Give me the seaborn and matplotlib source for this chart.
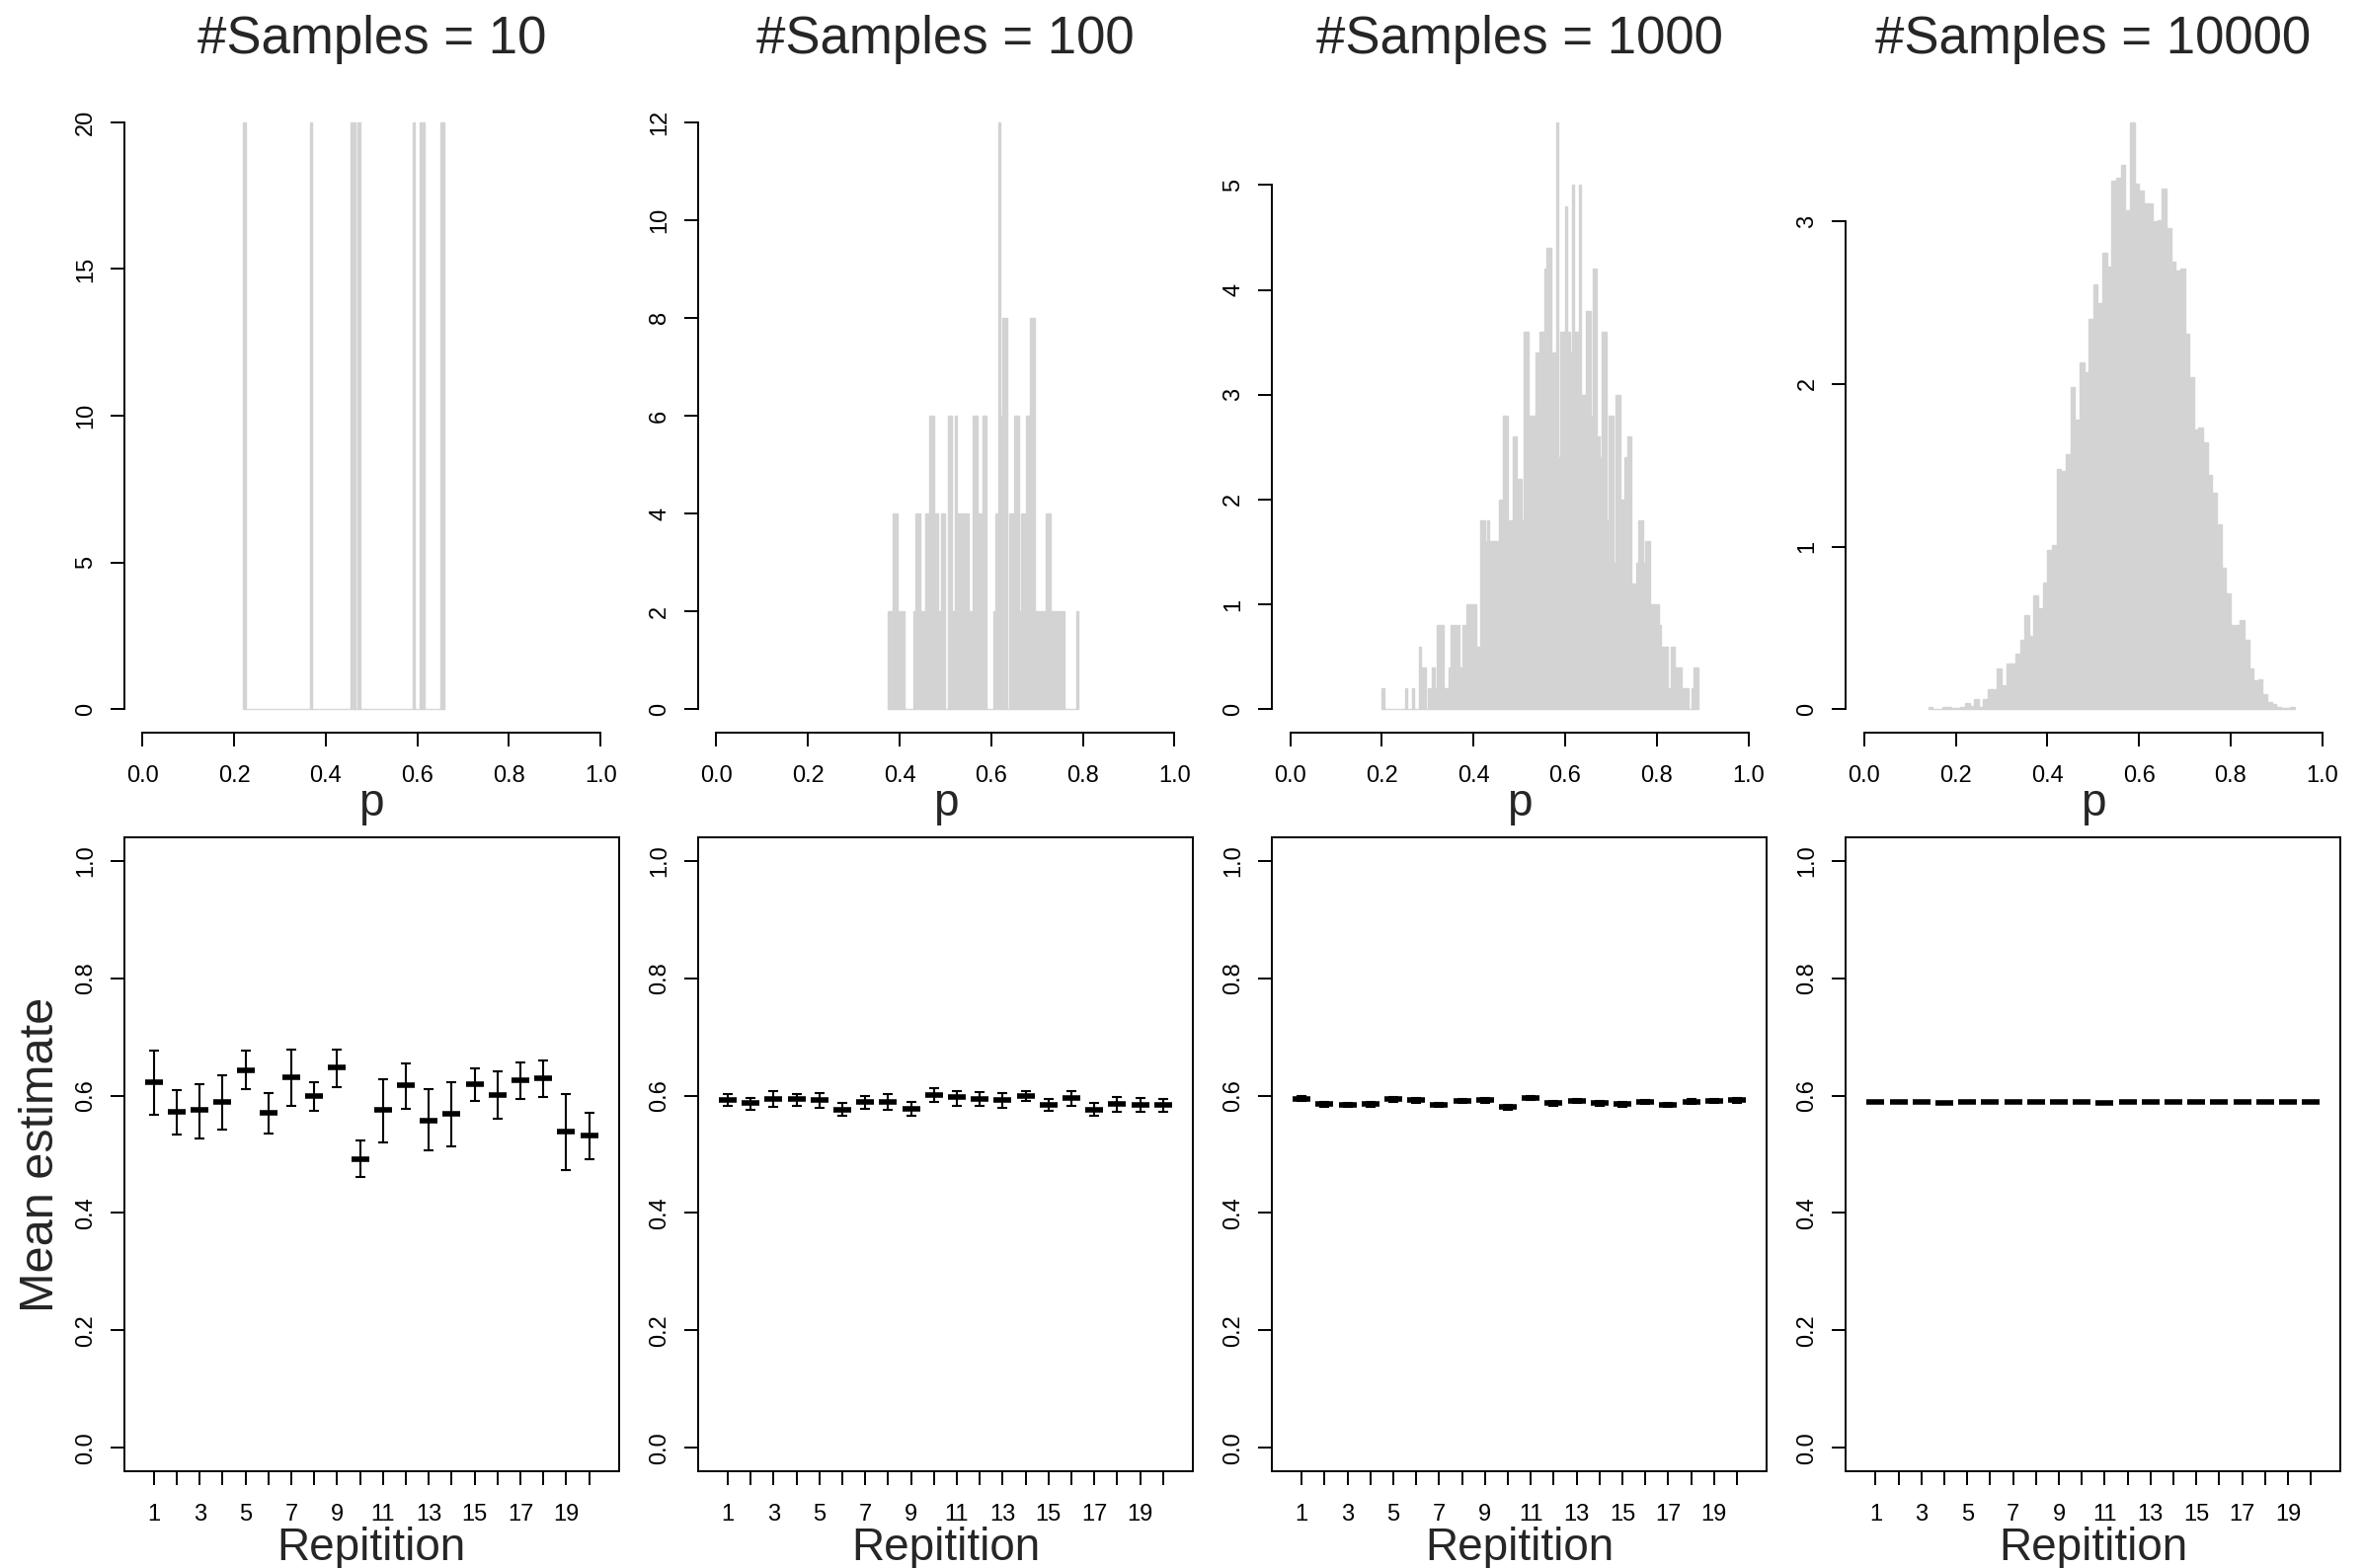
import numpy as np
import pandas as pd
import matplotlib
matplotlib.use("Agg")
import matplotlib.pyplot as plt
import seaborn as sns

sns.set_theme(style="white")
plt.rcParams["font.family"] = ["Liberation Sans", "DejaVu Sans"]

# ---------------- data ----------------
titles = ["#Samples = 10", "#Samples = 100", "#Samples = 1000", "#Samples = 10000"]

# panel 1: the ten sampled p values (density histogram, bin width 0.005)
p_samples_10 = [0.2225, 0.3675, 0.4575, 0.4625, 0.4725,
                0.5925, 0.6075, 0.6125, 0.6525, 0.6575]
bins_10 = (0.22, 0.66, 0.005)  # start, stop, width

# panel 2: densities per bin (start 0.375, width 0.005)
bins_100 = (0.375, 0.005)
dens_100 = [2, 2, 4, 4, 2, 2, 2, 0, 0, 0, 0, 2, 4, 4, 2, 2, 4, 4, 6, 6,
            4, 4, 2, 4, 4, 0, 6, 6, 2, 6, 4, 4, 4, 4, 4, 2, 2, 6, 6, 4,
            4, 6, 6, 0, 0, 0, 2, 4, 12, 6, 8, 8, 0, 4, 4, 6, 6, 2, 4, 4,
            6, 6, 8, 8, 2, 2, 2, 2, 2, 4, 4, 2, 2, 2, 2, 2, 2, 0, 0, 0,
            0, 0, 2]

# panel 3: densities per bin (start 0.20, width 0.005)
bins_1000 = (0.20, 0.005)
dens_1000 = [0.2, 0, 0, 0, 0, 0, 0, 0, 0, 0, 0.2, 0, 0, 0.2, 0, 0, 0.6, 0.4, 0.4, 0,
             0.2, 0.2, 0.4, 0.2, 0.8, 0.8, 0.8, 0.2, 0.2, 0.4, 0.8, 0.8, 0.8, 0.8, 0.4, 0.8, 0.8, 1.0, 1.0, 1.0,
             1.0, 0.6, 0.6, 1.8, 1.8, 1.6, 1.8, 1.6, 1.6, 1.6, 1.6, 2.0, 2.0, 2.8, 2.8, 1.8, 1.8, 2.6, 2.6, 2.2,
             2.2, 1.8, 3.6, 3.6, 2.8, 2.8, 2.8, 3.4, 3.4, 3.6, 3.6, 4.2, 4.4, 4.4, 3.4, 3.4, 5.6, 2.4, 3.6, 3.6,
             4.8, 3.6, 3.4, 5.0, 3.6, 3.6, 5.0, 3.0, 3.0, 3.8, 3.8, 2.8, 4.2, 4.2, 2.6, 2.4, 3.6, 3.6, 1.8, 2.8,
             2.8, 1.4, 3.0, 3.0, 2.0, 2.0, 2.4, 2.6, 2.6, 1.2, 1.2, 1.4, 1.8, 1.8, 1.4, 1.6, 1.6, 1.0, 1.0, 1.0,
             1.0, 0.8, 0.6, 0.6, 0.6, 0.2, 0.6, 0.6, 0.4, 0.4, 0.4, 0.2, 0.2, 0.2, 0, 0.2, 0.4, 0.4]

# panel 4: densities per bin (start 0.14, width 0.01)
bins_10000 = (0.14, 0.01)
dens_10000 = [0.012, 0.003, 0.003, 0.012, 0.012, 0.005, 0.005, 0.016, 0.04, 0.02,
              0.064, 0.016, 0.064, 0.125, 0.125, 0.25, 0.146, 0.28, 0.28, 0.34,
              0.425, 0.58, 0.45, 0.70, 0.62, 0.78, 0.98, 1.01, 1.48, 1.465,
              1.57, 1.98, 1.78, 2.13, 2.07, 2.40, 2.61, 2.50, 2.81, 2.72,
              3.25, 3.27, 3.35, 3.07, 3.61, 3.23, 3.19, 3.11, 3.11, 3.00,
              3.01, 3.20, 2.96, 2.75, 2.70, 2.71, 2.31, 2.04, 1.72, 1.73,
              1.64, 1.44, 1.33, 1.14, 0.87, 0.71, 0.52, 0.515, 0.55, 0.425,
              0.25, 0.18, 0.185, 0.09, 0.045, 0.034, 0.016, 0.005, 0.005, 0.016]

hist_yticks = [[0, 5, 10, 15, 20], [0, 2, 4, 6, 8, 10, 12], [0, 1, 2, 3, 4, 5], [0, 1, 2, 3]]
p_ticks = [0.0, 0.2, 0.4, 0.6, 0.8, 1.0]
p_ticklabels = ["0.0", "0.2", "0.4", "0.6", "0.8", "1.0"]

repetitions = list(range(1, 21))

mean_10 = [0.623, 0.573, 0.575, 0.589, 0.643, 0.571, 0.631, 0.600, 0.648, 0.492,
           0.575, 0.617, 0.558, 0.569, 0.619, 0.601, 0.627, 0.630, 0.538, 0.532]
low_10 = [0.568, 0.534, 0.527, 0.542, 0.611, 0.535, 0.583, 0.574, 0.615, 0.461,
          0.521, 0.578, 0.506, 0.514, 0.591, 0.560, 0.595, 0.598, 0.473, 0.491]
high_10 = [0.676, 0.610, 0.620, 0.634, 0.676, 0.605, 0.679, 0.623, 0.679, 0.523,
           0.628, 0.655, 0.611, 0.623, 0.647, 0.642, 0.657, 0.659, 0.603, 0.571]

mean_100 = [0.593, 0.587, 0.595, 0.594, 0.593, 0.576, 0.589, 0.590, 0.578, 0.601,
            0.597, 0.595, 0.592, 0.600, 0.584, 0.596, 0.576, 0.585, 0.584, 0.584]
low_100 = [0.583, 0.576, 0.581, 0.583, 0.579, 0.565, 0.578, 0.575, 0.565, 0.589,
           0.583, 0.583, 0.579, 0.591, 0.574, 0.582, 0.565, 0.573, 0.572, 0.572]
high_100 = [0.603, 0.596, 0.607, 0.603, 0.605, 0.587, 0.599, 0.603, 0.589, 0.612,
            0.608, 0.606, 0.604, 0.608, 0.595, 0.608, 0.587, 0.597, 0.596, 0.595]

mean_1000 = [0.595, 0.585, 0.584, 0.585, 0.594, 0.592, 0.584, 0.591, 0.592, 0.580,
             0.596, 0.587, 0.591, 0.587, 0.585, 0.589, 0.584, 0.590, 0.591, 0.592]
low_1000 = [0.591, 0.581, 0.580, 0.581, 0.590, 0.588, 0.580, 0.587, 0.588, 0.576,
            0.592, 0.583, 0.587, 0.583, 0.581, 0.585, 0.580, 0.586, 0.587, 0.588]
high_1000 = [0.599, 0.589, 0.588, 0.589, 0.598, 0.596, 0.588, 0.595, 0.596, 0.584,
             0.600, 0.591, 0.595, 0.591, 0.589, 0.593, 0.588, 0.594, 0.595, 0.596]

mean_10000 = [0.589, 0.590, 0.590, 0.588, 0.590, 0.590, 0.590, 0.590, 0.590, 0.590,
              0.588, 0.589, 0.589, 0.589, 0.590, 0.589, 0.589, 0.589, 0.589, 0.590]
low_10000 = [0.588, 0.589, 0.589, 0.587, 0.589, 0.589, 0.589, 0.589, 0.589, 0.589,
             0.587, 0.588, 0.588, 0.588, 0.589, 0.588, 0.588, 0.588, 0.588, 0.589]
high_10000 = [0.590, 0.591, 0.591, 0.589, 0.591, 0.591, 0.591, 0.591, 0.591, 0.591,
              0.589, 0.590, 0.590, 0.590, 0.591, 0.590, 0.590, 0.590, 0.590, 0.591]

est_yticks = [0.0, 0.2, 0.4, 0.6, 0.8, 1.0]
est_yticklabels = ["0.0", "0.2", "0.4", "0.6", "0.8", "1.0"]

# ---------------- figure ----------------
W, H = 2394, 1588
fig = plt.figure(figsize=(W / 100, H / 100), dpi=100)
fig.patch.set_facecolor("white")

HIST_COLOR = "#D3D3D3"
TICK_FS = 17
LABEL_FS = 33
YLABEL_FS = 35
TITLE_FS = 38
LW = 1.4


def px_axes(left, top, width, height):
    return fig.add_axes([left / W, 1 - (top + height) / H, width / W, height / H])


col_left = [125.7 + 581.2 * c for c in range(4)]
col_w = 501.0

hist_specs = [("samples", p_samples_10, bins_10),
              ("dens", dens_100, bins_100),
              ("dens", dens_1000, bins_1000),
              ("dens", dens_10000, bins_10000)]

for c in range(4):
    ax = px_axes(col_left[c], 100, col_w, 642)
    kind, vals, b = hist_specs[c]
    if kind == "samples":
        start, stop, width = b
        n = int(round((stop - start) / width))
        edges = [float(e) for e in start + width * np.arange(n + 1)]
        df = pd.DataFrame({"p": vals})
        sns.histplot(data=df, x="p", bins=edges, stat="density", ax=ax, color=HIST_COLOR,
                     edgecolor=HIST_COLOR, linewidth=1.0, alpha=1)
        ymax = 1.0 / (len(vals) * width)
    else:
        start, width = b
        n = len(vals)
        edges_arr = start + width * np.arange(n + 1)
        edges = [float(e) for e in edges_arr]
        centers = edges_arr[:-1] + width / 2
        df = pd.DataFrame({"p": centers, "density": vals})
        sns.histplot(data=df, x="p", weights="density", bins=edges, stat="count", ax=ax,
                     color=HIST_COLOR, edgecolor=HIST_COLOR, linewidth=1.0, alpha=1)
        ymax = max(vals)
    ax.set_xlim(-0.04, 1.04)
    ax.set_ylim(-0.04 * ymax, 1.04 * ymax)
    ax.set_xlabel("")
    ax.set_ylabel("")
    yt = hist_yticks[c]
    ax.set_yticks(yt)
    ax.set_yticklabels([str(t) for t in yt])
    ax.set_xticks(p_ticks)
    ax.set_xticklabels(p_ticklabels)
    for s in ["top", "right"]:
        ax.spines[s].set_visible(False)
    for s in ["left", "bottom"]:
        ax.spines[s].set_color("black")
        ax.spines[s].set_linewidth(LW)
    ax.spines["left"].set_bounds(yt[0], yt[-1])
    ax.spines["bottom"].set_bounds(0, 1)
    ax.tick_params(axis="both", direction="out", length=10, width=LW, color="black",
                   labelsize=TICK_FS, labelcolor="black")
    ax.tick_params(axis="x", pad=13.5, bottom=True)
    ax.tick_params(axis="y", pad=10.0, left=True, labelrotation=90)
    for lab in ax.get_yticklabels():
        lab.set_va("center")
    ax.set_facecolor("white")
    cx = (col_left[c] + col_w / 2) / W
    fig.text(cx, 1 - 54 / H, titles[c], ha="center", va="baseline", fontsize=TITLE_FS)
    fig.text(cx, 1 - 826 / H, "p", ha="center", va="baseline", fontsize=LABEL_FS)

est_data = [(mean_10, low_10, high_10), (mean_100, low_100, high_100),
            (mean_1000, low_1000, high_1000), (mean_10000, low_10000, high_10000)]

for c in range(4):
    ax = px_axes(col_left[c], 848, col_w, 642)
    m, lo, hi = [np.asarray(v) for v in est_data[c]]
    ax.errorbar(repetitions, m, yerr=[m - lo, hi - m], fmt="none", ecolor="black",
                elinewidth=1.5, capsize=3.85, capthick=1.5, zorder=2)
    df = pd.DataFrame({"rep": repetitions, "mean": m})
    sns.scatterplot(data=df, x="rep", y="mean", marker="_", s=170, color="black",
                    linewidth=4, ax=ax, zorder=3, legend=False)
    ax.set_xlim(-0.3, 21.3)
    ax.set_ylim(-0.04, 1.04)
    ax.set_xlabel("")
    ax.set_ylabel("")
    ax.set_xticks(repetitions)
    ax.set_xticklabels([str(r) if r % 2 == 1 else "" for r in repetitions])
    ax.set_yticks(est_yticks)
    ax.set_yticklabels(est_yticklabels)
    for s in ax.spines.values():
        s.set_visible(True)
        s.set_color("black")
        s.set_linewidth(LW)
    ax.tick_params(axis="both", direction="out", length=10, width=LW, color="black",
                   labelsize=TICK_FS, labelcolor="black")
    ax.tick_params(axis="x", pad=13.8, bottom=True)
    ax.tick_params(axis="y", pad=10.0, left=True, labelrotation=90)
    for lab in ax.get_yticklabels():
        lab.set_va("center")
    ax.set_facecolor("white")
    cx = (col_left[c] + col_w / 2) / W
    fig.text(cx, 1 - 1580 / H, "Repitition", ha="center", va="baseline", fontsize=LABEL_FS)

fig.text(42 / W, 1 - 1169 / H, "Mean estimate", rotation=90, ha="center", va="center",
         fontsize=YLABEL_FS)

fig.savefig("out.png", dpi=100, facecolor="white")
